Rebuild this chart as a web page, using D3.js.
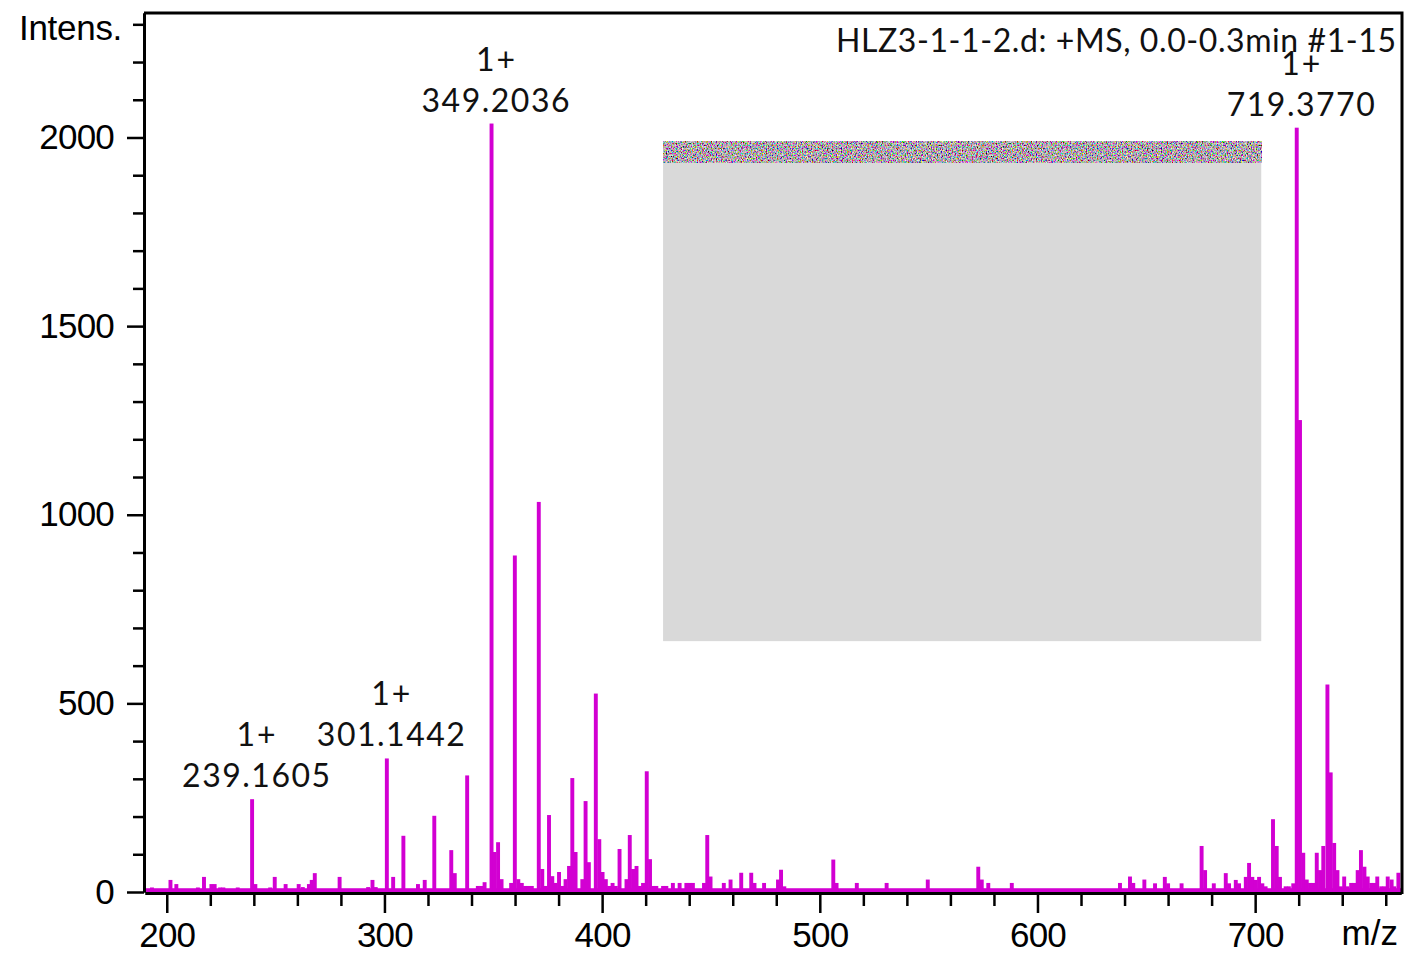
<!DOCTYPE html>
<html>
<head>
<meta charset="utf-8">
<script src="https://cdn.jsdelivr.net/npm/d3@7"></script>
<style>
  html, body { margin: 0; padding: 0; background: #fff; }
  svg { display: block; }
  .axis-label { font-family: "Liberation Sans", Arial, sans-serif; font-size: 35px; fill: #000; }
  .note { font-family: Lato, "Open Sans", sans-serif; font-size: 32px; fill: #111; }
</style>
</head>
<body>
<div id="chart"></div>
<script>
// spectrum values (m/z, intensity)
const spectrumMz = [
  193.2, 201.7, 204.4, 214.3, 217.1, 220.5, 222.0, 224.5, 226.0, 232.6,
  239.2, 240.7, 247.5, 249.6, 254.6, 260.6, 262.5, 265.3, 266.6, 268.0,
  279.4, 292.5, 294.5, 296.0, 301.1, 304.0, 308.7, 315.4, 318.5, 322.9,
  330.7, 332.3, 338.0, 342.9, 344.4, 346.0, 349.2, 350.6, 352.2, 353.8,
  358.2, 359.9, 361.5, 363.1, 364.6, 366.1, 367.7, 370.9, 372.5, 374.1,
  375.6, 377.1, 378.7, 380.2, 381.7, 383.2, 384.8, 386.3, 387.8, 390.9,
  392.4, 393.9, 397.1, 398.7, 400.2, 401.7, 403.2, 404.8, 406.3, 408.0,
  411.2, 412.7, 414.2, 415.8, 417.3, 418.8, 420.5, 422.0, 423.4, 424.9,
  428.0, 429.5, 432.5, 435.6, 438.7, 440.2, 441.7, 446.8, 448.3, 449.8,
  455.9, 459.0, 463.9, 468.5, 470.0, 474.4, 480.8, 482.2, 483.7, 506.2,
  507.7, 517.0, 530.7, 549.6, 572.8, 574.4, 577.4, 588.2, 637.9, 642.5,
  644.0, 649.1, 654.0, 658.5, 660.0, 666.2, 675.4, 677.0, 681.0, 686.5,
  688.0, 691.1, 692.6, 695.7, 697.2, 698.7, 700.3, 701.8, 703.3, 704.8,
  708.2, 709.9, 711.4, 714.0, 715.5, 717.5, 719.1, 720.6, 722.1, 723.7,
  725.2, 726.7, 728.3, 729.8, 731.3, 733.2, 734.7, 736.3, 737.8, 739.4,
  740.9, 742.4, 744.1, 745.5, 747.1, 748.6, 750.2, 751.7, 753.3, 754.8,
  756.1, 757.9, 759.4, 760.9, 762.7, 763.9, 765.8
];
const spectrumInt = [
  12, 32, 21, 12, 40, 21, 21, 12, 12, 12,
  246, 21, 12, 40, 21, 21, 13, 21, 32, 50,
  40, 13, 32, 13, 354, 40, 149, 21, 32, 202,
  111, 50, 309, 16, 16, 26, 2037, 106, 132, 34,
  24, 892, 34, 24, 16, 16, 16, 1034, 61, 16,
  204, 42, 24, 53, 16, 34, 69, 302, 106, 34,
  241, 79, 526, 140, 53, 34, 16, 24, 16, 114,
  34, 151, 61, 69, 16, 24, 320, 87, 16, 16,
  16, 16, 24, 24, 24, 24, 24, 24, 151, 41,
  24, 33, 51, 51, 24, 24, 33, 59, 15, 86,
  24, 24, 24, 33, 67, 33, 24, 24, 24, 41,
  24, 33, 23, 40, 23, 23, 122, 58, 23, 50,
  23, 32, 23, 40, 77, 40, 32, 40, 23, 15,
  193, 122, 40, 15, 15, 23, 2026, 1251, 104, 33,
  24, 24, 104, 58, 122, 550, 317, 130, 58, 15,
  41, 15, 24, 24, 58, 111, 67, 41, 24, 24,
  41, 15, 15, 41, 33, 15, 51
];
const baselineLevel = 10;

// annotated peaks
const labelMz = [239.1605, 301.1442, 349.2036, 719.3770];
const labelCharge = ["1+", "1+", "1+", "1+"];

const xMajorTicks = [200, 300, 400, 500, 600, 700];
const xMinorTicks = d3.range(220, 761, 20).filter(d => d % 100 !== 0);
const yMajorTicks = [0, 500, 1000, 1500, 2000];
const yMinorTicks = d3.range(100, 2301, 100).filter(d => d % 500 !== 0);

const titleText = "HLZ3-1-1-2.d: +MS, 0.0-0.3min #1-15";

const width = 1407, height = 954;
const plotLeft = 145, plotRight = 1401, plotTop = 13, plotBottom = 892;

const svg = d3.select("#chart").append("svg")
    .attr("width", width)
    .attr("height", height);

const x = d3.scaleLinear().domain([190, 767]).range([plotLeft, plotRight]);
const y = d3.scaleLinear().domain([0, 2330]).range([plotBottom, plotTop]);

const defs = svg.append("defs");
const noise = defs.append("filter").attr("id", "noise")
    .attr("x", 0).attr("y", 0).attr("width", 1).attr("height", 1);
noise.append("feTurbulence")
    .attr("type", "fractalNoise")
    .attr("baseFrequency", "0.8 0.6")
    .attr("numOctaves", 2)
    .attr("seed", 7)
    .attr("result", "t");
noise.append("feColorMatrix")
    .attr("in", "t")
    .attr("type", "matrix")
    .attr("values", "2.2 0 0 0 -0.65  0 2.2 0 0 -0.7  0 0 2.2 0 -0.65  0 0 0 0 1");

const bw = 1.8;
const spectrum = spectrumMz.map((m, i) => ({ mz: m, int: spectrumInt[i] }));
const magenta = "#d200d2";

// baseline band
svg.append("rect")
    .attr("x", x(190))
    .attr("y", y(baselineLevel))
    .attr("width", x(767) - x(190))
    .attr("height", y(0) - y(baselineLevel))
    .attr("fill", magenta);

svg.selectAll(".peak")
    .data(spectrum)
    .enter()
    .append("rect")
    .attr("class", "peak")
    .attr("x", d => x(d.mz - bw / 2))
    .attr("y", d => y(d.int))
    .attr("width", x(bw) - x(0))
    .attr("height", d => y(0) - y(d.int))
    .attr("fill", magenta);

// redacted panel (grey box with noise strip on top)
const boxX0 = 428, boxX1 = 702.8, boxY0 = 665, boxY1 = 1990;
svg.append("rect")
    .attr("x", x(boxX0)).attr("y", y(boxY1))
    .attr("width", x(boxX1) - x(boxX0))
    .attr("height", y(boxY0) - y(boxY1))
    .attr("fill", "#d9d9d9");
svg.append("rect")
    .attr("x", x(boxX0)).attr("y", y(boxY1))
    .attr("width", x(boxX1) - x(boxX0))
    .attr("height", 21)
    .attr("fill", "#888")
    .attr("filter", "url(#noise)");

// axes
const xAxisMajor = d3.axisBottom(x).tickValues(xMajorTicks).tickSize(20).tickSizeOuter(0).tickPadding(8).tickFormat(d3.format("d"));
const xAxisMinor = d3.axisBottom(x).tickValues(xMinorTicks).tickSize(13).tickSizeOuter(0).tickFormat("");
const yAxisMajor = d3.axisLeft(y).tickValues(yMajorTicks).tickSize(17).tickSizeOuter(0).tickPadding(13).tickFormat(d3.format("d"));
const yAxisMinor = d3.axisLeft(y).tickValues(yMinorTicks).tickSize(11).tickSizeOuter(0).tickFormat("");

function styleAxis(g) {
    g.selectAll("path.domain").attr("stroke", "#000").attr("stroke-width", 3);
    g.selectAll(".tick line").attr("stroke", "#000").attr("stroke-width", 2.5);
    g.selectAll(".tick text")
        .attr("class", "axis-label")
        .attr("font-family", null).attr("font-size", null)
        .style("letter-spacing", "-0.8px");
}

svg.append("g").attr("transform", `translate(0,${plotBottom + 1})`).call(xAxisMinor).call(styleAxis);
svg.append("g").attr("transform", `translate(0,${plotBottom + 1})`).call(xAxisMajor).call(styleAxis)
    .selectAll(".tick text").attr("dy", "0.74em");
svg.append("g").attr("transform", `translate(${plotLeft - 1},0)`).call(yAxisMinor).call(styleAxis);
svg.append("g").attr("transform", `translate(${plotLeft - 1},0)`).call(yAxisMajor).call(styleAxis)
    .selectAll(".tick text").attr("dy", "0.32em");

// frame top and right
svg.append("path")
    .attr("d", `M${plotLeft - 1},${plotTop} H${plotRight + 1} V${plotBottom + 2}`)
    .attr("fill", "none")
    .attr("stroke", "#000")
    .attr("stroke-width", 3);

svg.append("text").attr("class", "axis-label")
    .attr("x", 122).attr("y", 40)
    .attr("text-anchor", "end")
    .style("letter-spacing", "-0.3px")
    .text("Intens.");

svg.append("text").attr("class", "axis-label")
    .attr("x", 1398).attr("y", 945)
    .attr("text-anchor", "end")
    .text("m/z");

svg.append("text").attr("class", "note")
    .attr("x", 836).attr("y", 52)
    .attr("textLength", 560)
    .attr("lengthAdjust", "spacing")
    .text(titleText);

// peak annotations
labelMz.forEach((m, i) => {
    const near = spectrum.reduce((a, b) => Math.abs(b.mz - m) < Math.abs(a.mz - m) ? b : a);
    const cx = x(near.mz) + 5;
    const ty = y(near.int);
    const num = m.toFixed(4);
    svg.append("text").attr("class", "note")
        .attr("x", cx - 75).attr("y", ty - 12)
        .attr("textLength", 148)
        .attr("lengthAdjust", "spacing")
        .text(num);
    svg.append("text").attr("class", "note")
        .attr("x", cx).attr("y", ty - 53)
        .attr("text-anchor", "middle")
        .style("letter-spacing", "2px")
        .text(labelCharge[i]);
});
</script>
</body>
</html>
